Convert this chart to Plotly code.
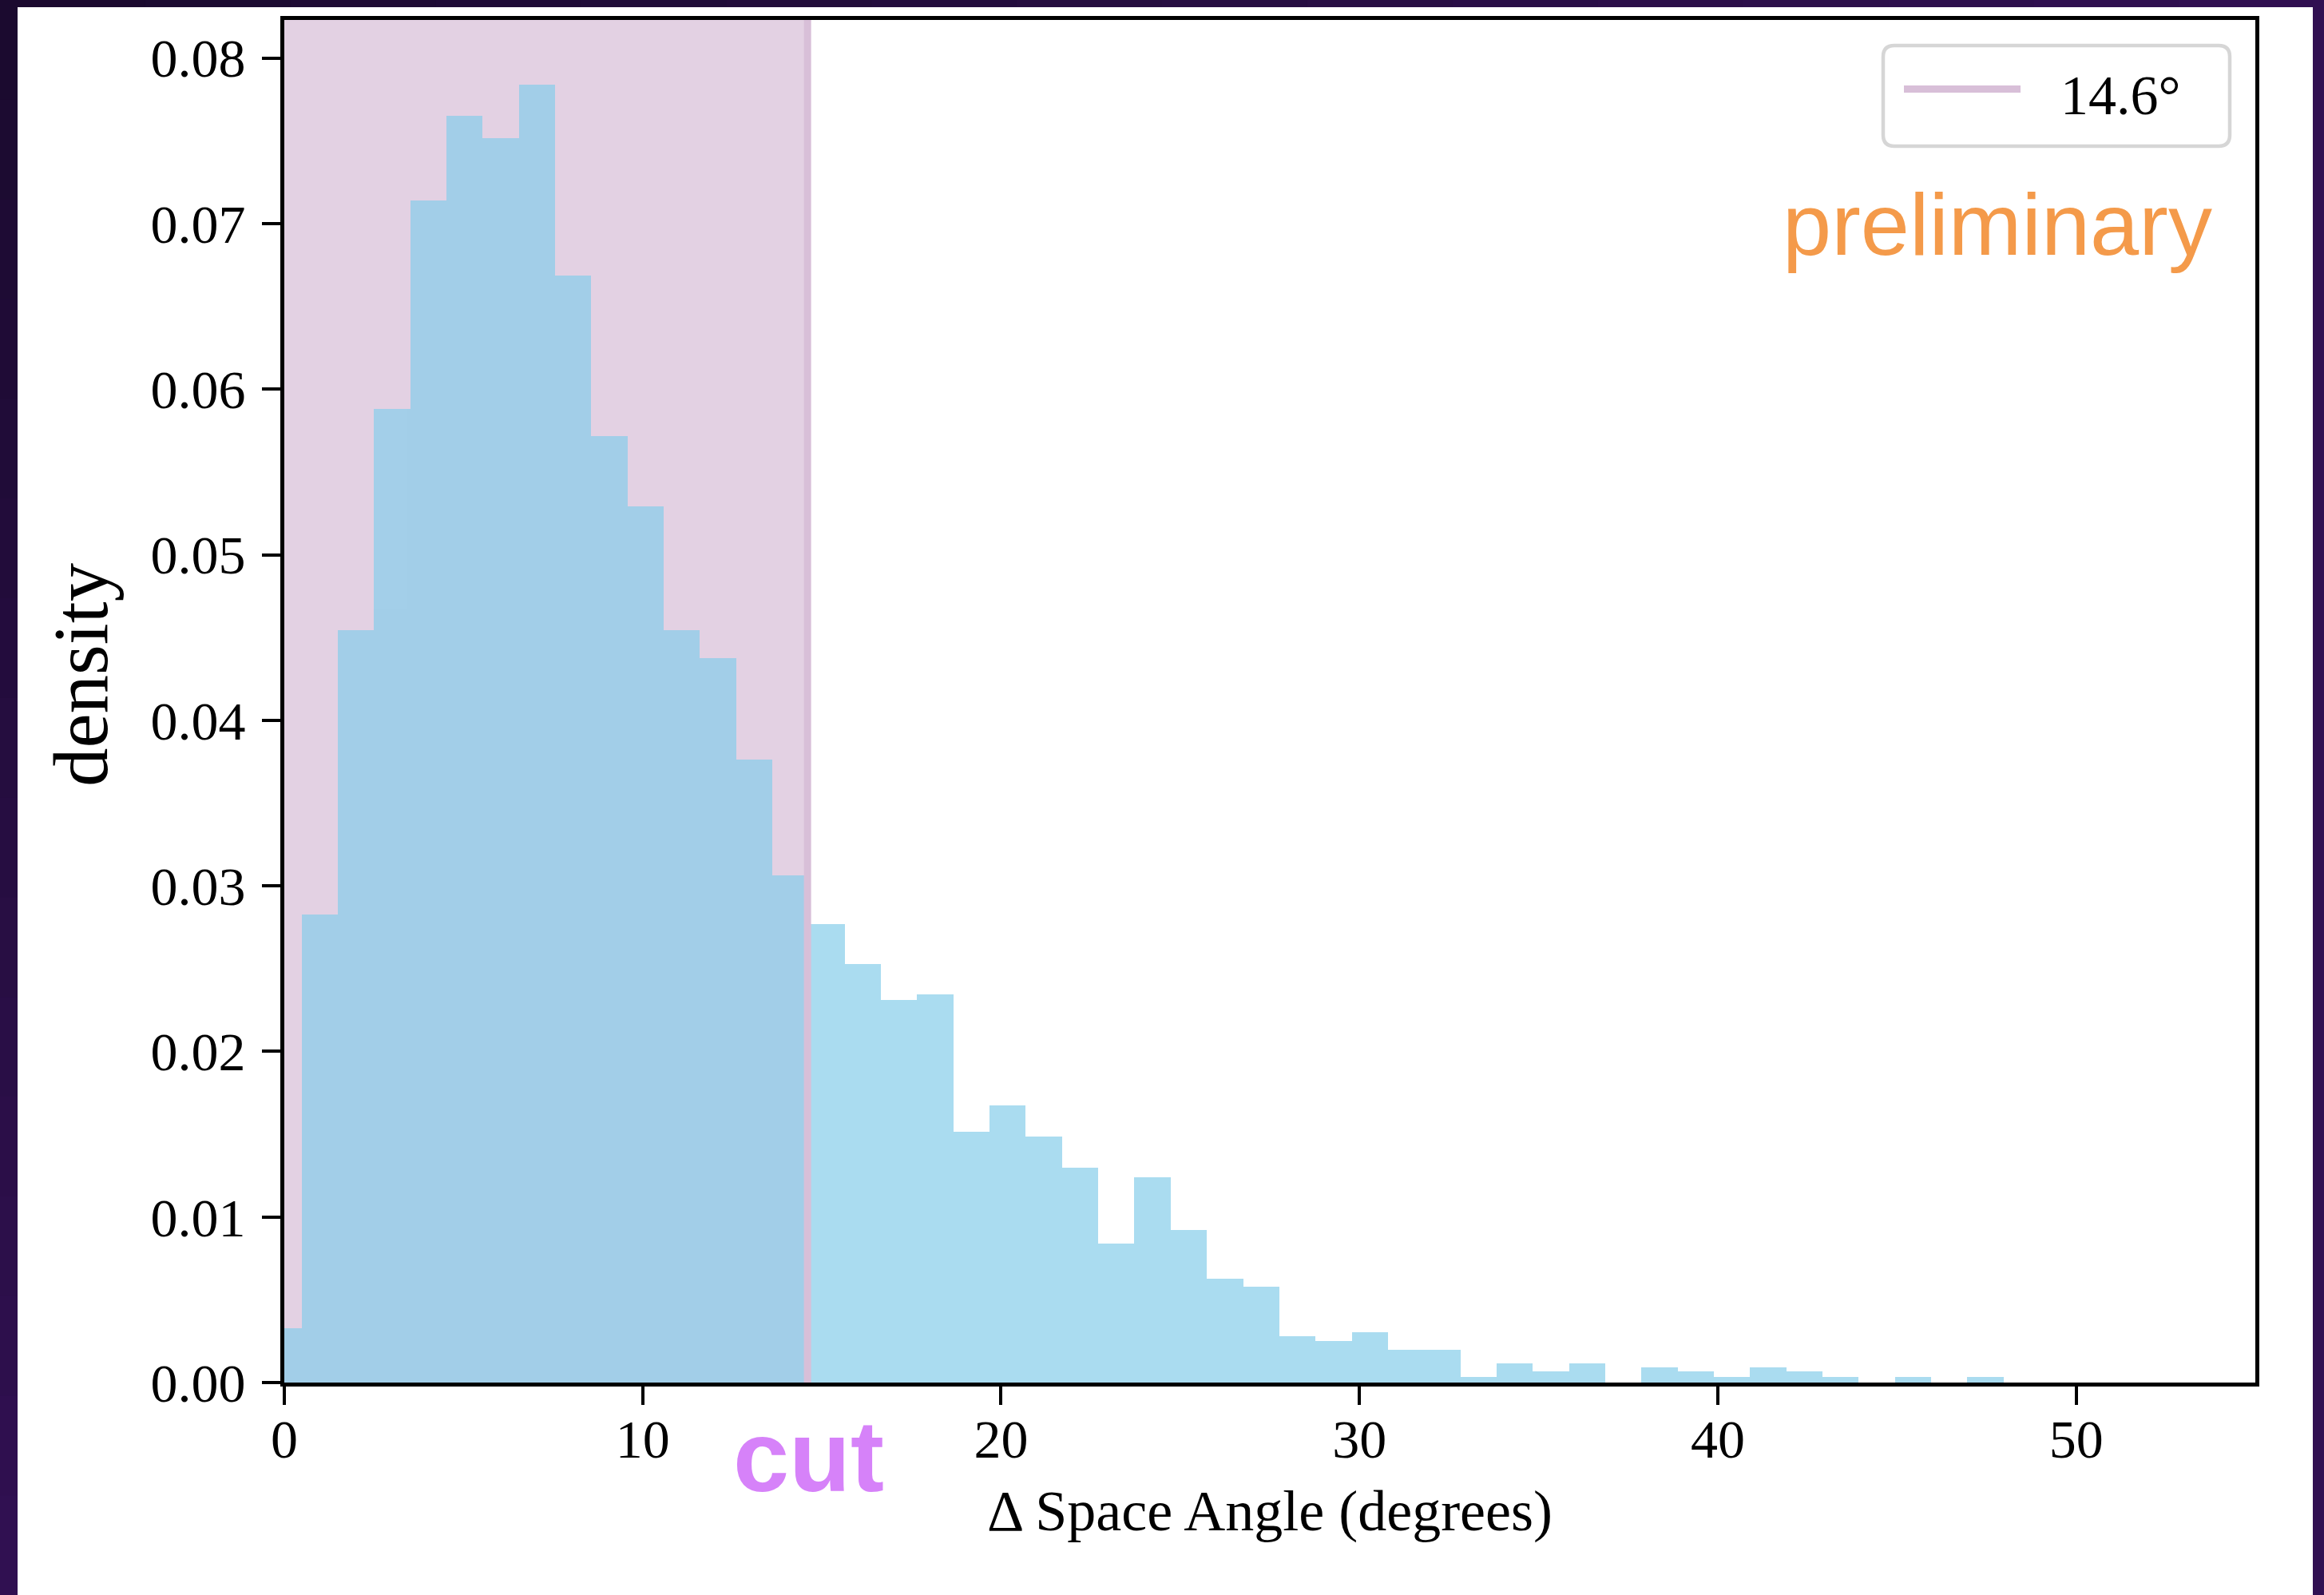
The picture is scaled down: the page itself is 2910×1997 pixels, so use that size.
import plotly.graph_objects as go

# ---------------- data ----------------
bin_first_left = -0.53      # left edge of first histogram bin (degrees)
bin_width = 1.0105          # histogram bin width (degrees)
density = [
    0.00329, 0.02828, 0.04542, 0.05883, 0.07140, 0.07651, 0.07514, 0.07839,
    0.06684, 0.05717, 0.05291, 0.04542, 0.04377, 0.03762, 0.03063, 0.02770,
    0.02528, 0.02313, 0.02343, 0.01513, 0.01672, 0.01485, 0.01296, 0.00841,
    0.01238, 0.00923, 0.00627, 0.00577, 0.00281, 0.00252, 0.00304, 0.00196,
    0.00196, 0.00035, 0.00116, 0.00066, 0.00116, 0.0, 0.00093, 0.00066,
    0.00035, 0.00093, 0.00066, 0.00035, 0.0, 0.00035, 0.0, 0.00035,
]
cut_value = 14.6
x_ticks = [0, 10, 20, 30, 40, 50]
y_ticks = [0.00, 0.01, 0.02, 0.03, 0.04, 0.05, 0.06, 0.07, 0.08]
y_tick_labels = ["0.00", "0.01", "0.02", "0.03", "0.04", "0.05", "0.06", "0.07", "0.08"]
x_title = "Δ Space Angle (degrees)"
y_title = "density"
legend_label = f"{cut_value}°"
watermark = "preliminary"
cut_label = "cut"

# ---------------- geometry ----------------
W, H = 2910, 1997
PL, PR, PT, PB = 356, 2824, 25, 1731   # plot area in pixels
SERIF = "Liberation Serif"
SANS = "Liberation Sans"


def xp(px):
    return (px - PL) / (PR - PL)


def yp(py):
    return (PB - py) / (PB - PT)


centers = [bin_first_left + (i + 0.5) * bin_width for i in range(len(density))]

fig = go.Figure()
fig.add_trace(go.Bar(
    x=centers, y=density, width=bin_width,
    marker=dict(color="skyblue", line=dict(width=0)),
    opacity=0.7, showlegend=False, hoverinfo="skip",
))

shapes = []
# cut region (axvspan) below the histogram
shapes.append(dict(type="rect", xref="x", yref="paper", x0=0, x1=cut_value, y0=0, y1=1,
                   fillcolor="thistle", opacity=0.72, line=dict(width=0), layer="below"))
# cut line (axvline)
shapes.append(dict(type="line", xref="x", yref="paper", x0=cut_value, x1=cut_value, y0=0, y1=1,
                   line=dict(color="thistle", width=9), layer="above"))

# legend box (rounded)
bx0, bx1, by0, by1, r = 2358, 2792, 57, 183, 14
path = (f"M{xp(bx0 + r)},{yp(by0)} L{xp(bx1 - r)},{yp(by0)} "
        f"Q{xp(bx1)},{yp(by0)} {xp(bx1)},{yp(by0 + r)} L{xp(bx1)},{yp(by1 - r)} "
        f"Q{xp(bx1)},{yp(by1)} {xp(bx1 - r)},{yp(by1)} L{xp(bx0 + r)},{yp(by1)} "
        f"Q{xp(bx0)},{yp(by1)} {xp(bx0)},{yp(by1 - r)} L{xp(bx0)},{yp(by0 + r)} "
        f"Q{xp(bx0)},{yp(by0)} {xp(bx0 + r)},{yp(by0)} Z")
shapes.append(dict(type="path", xref="paper", yref="paper", path=path,
                   fillcolor="white", line=dict(color="#d6d6d6", width=4.5), layer="above"))
shapes.append(dict(type="line", xref="paper", yref="paper",
                   x0=xp(2384), x1=xp(2530), y0=yp(111.5), y1=yp(111.5),
                   line=dict(color="thistle", width=9), layer="above"))


# slide border (dark purple gradient)
def mix(c1, c2, t):
    a = [int(c1[i:i + 2], 16) for i in (1, 3, 5)]
    b = [int(c2[i:i + 2], 16) for i in (1, 3, 5)]
    return "#" + "".join(f"{round(a[k] + (b[k] - a[k]) * t):02x}" for k in range(3))


C_DARK, C_LIGHT = "#1a0a2e", "#311052"
N = 16
for i in range(N):
    t = (i + 0.5) / N
    # top strip (segments overlap slightly to avoid seams)
    shapes.append(dict(type="rect", xref="paper", yref="paper",
                       x0=xp(W * i / N), x1=xp(W * (i + 1) / N + 3), y0=yp(0), y1=yp(9),
                       fillcolor=mix(C_DARK, C_LIGHT, t), line=dict(width=0), layer="above"))
    # left strip
    shapes.append(dict(type="rect", xref="paper", yref="paper",
                       x0=xp(0), x1=xp(22), y0=yp(H * i / N), y1=yp(H * (i + 1) / N + 3),
                       fillcolor=mix(C_DARK, C_LIGHT, t), line=dict(width=0), layer="above"))
shapes.append(dict(type="rect", xref="paper", yref="paper",
                   x0=xp(2896), x1=xp(W), y0=yp(0), y1=yp(H),
                   fillcolor=C_LIGHT, line=dict(width=0), layer="above"))

annotations = [
    dict(text=y_title, xref="paper", yref="paper", x=xp(101), y=yp(845),
         xanchor="center", yanchor="middle", textangle=-90, showarrow=False,
         font=dict(family=SERIF, size=97, color="black")),
    dict(text=legend_label, xref="paper", yref="paper", x=xp(2578), y=yp(119.5),
         xanchor="left", yanchor="middle", showarrow=False,
         font=dict(family=SERIF, size=70, color="black")),
    dict(text=watermark, xref="paper", yref="paper", x=xp(2772), y=yp(280),
         xanchor="right", yanchor="middle", showarrow=False,
         font=dict(family=SANS, size=110, color="#f49a4a")),
    dict(text=cut_label, xref="paper", yref="paper", x=xp(1012), y=yp(1824),
         xanchor="center", yanchor="middle", showarrow=False,
         font=dict(family=SANS, size=126, color="#d682f9", weight="bold")),
]

axis_common = dict(
    showline=True, linecolor="black", linewidth=5, mirror=True,
    ticks="outside", ticklen=23, tickwidth=4, tickcolor="black",
    showgrid=False, zeroline=False, automargin=False,
    tickfont=dict(family=SERIF, size=68, color="black"),
)

fig.update_layout(
    width=W, height=H,
    margin=dict(l=PL, r=W - PR, t=PT, b=H - PB, pad=0),
    paper_bgcolor="white", plot_bgcolor="white",
    font=dict(family=SERIF, color="black"),
    bargap=0, showlegend=False,
    xaxis=dict(range=[0, 55], tickvals=x_ticks, ticktext=[str(v) for v in x_ticks],
               ticklabelstandoff=-16,
               title=dict(text=x_title, font=dict(family=SERIF, size=72), standoff=28),
               **axis_common),
    yaxis=dict(range=[0, 0.0823], tickvals=y_ticks, ticktext=y_tick_labels,
               ticklabelstandoff=7,
               **axis_common),
    shapes=shapes, annotations=annotations,
)

fig.write_html("out.html")
